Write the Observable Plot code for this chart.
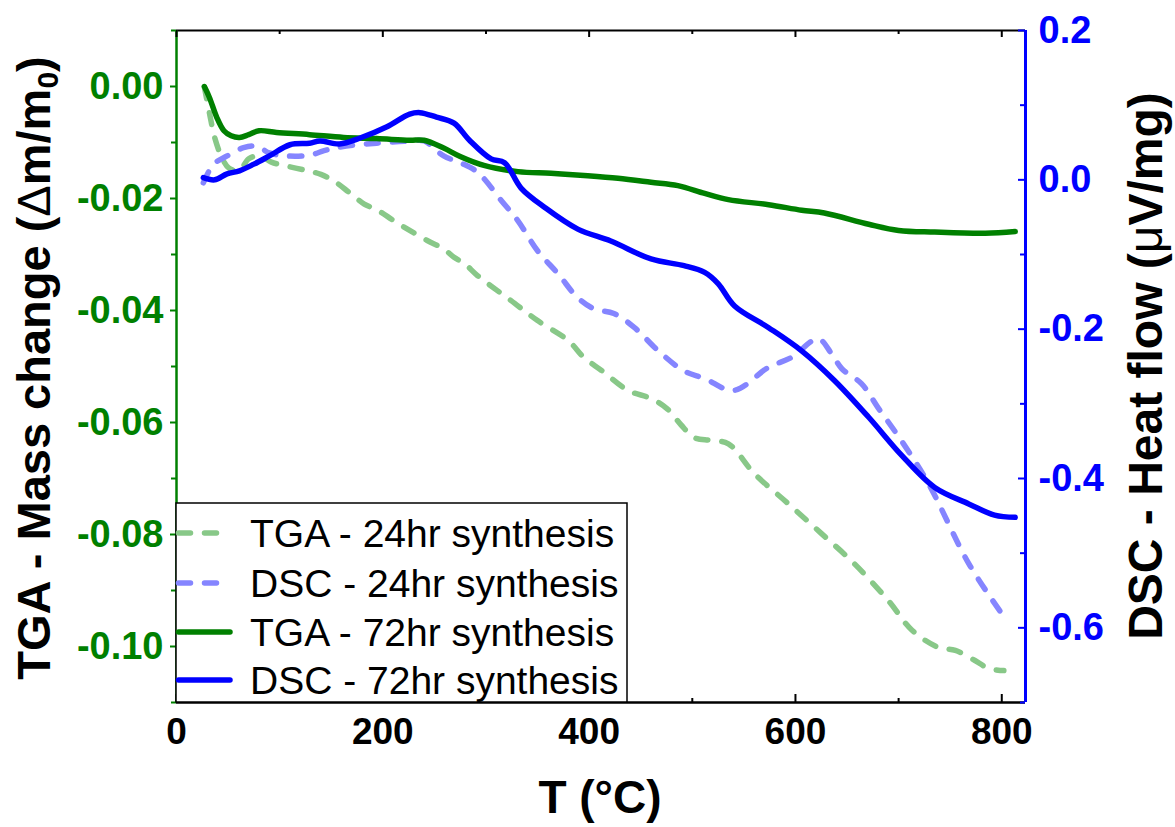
<!DOCTYPE html>
<html><head><meta charset="utf-8">
<script src="https://cdn.jsdelivr.net/npm/d3@7"></script>
<script src="https://cdn.jsdelivr.net/npm/@observablehq/plot@0.6"></script>
<style>
body{margin:0;background:#fff;}
#wrap{position:relative;width:1175px;height:827px;}
</style>
</head><body><div id="wrap"></div>
<script>
// ---- data (T in °C) ----
const tga24T = [27,32,37,44,51,61,70,81,92,104,126,140,152,168,182,194,211,226,243,259,269,279,292,324,350,380,395,412,438,460,476,489,502,518,535,560,593,625,657,690,713,739,755,774,787,802];
const tga24V = [-0.0001,-0.0048,-0.0091,-0.0127,-0.0146,-0.0150,-0.0129,-0.0124,-0.0135,-0.0141,-0.0150,-0.0157,-0.0168,-0.0190,-0.0210,-0.0220,-0.0240,-0.0257,-0.0275,-0.0290,-0.0305,-0.0316,-0.0338,-0.0382,-0.0418,-0.0454,-0.0484,-0.0507,-0.0543,-0.0557,-0.0576,-0.0604,-0.0627,-0.0632,-0.0638,-0.0691,-0.0745,-0.0798,-0.0852,-0.0918,-0.0971,-0.1002,-0.1007,-0.1025,-0.1039,-0.1043];

const dsc24T = [26,36,49,65,78,90,107,129,143,155,175,194,226,240,259,275,292,315,331,350,370,389,405,424,444,467,492,512,540,574,596,622,635,645,664,680,703,729,768,800];
const dsc24V = [-0.004,0.021,0.032,0.043,0.045,0.036,0.032,0.033,0.039,0.043,0.047,0.049,0.052,0.052,0.032,0.023,0.010,-0.028,-0.055,-0.095,-0.126,-0.158,-0.173,-0.179,-0.198,-0.229,-0.256,-0.266,-0.282,-0.251,-0.238,-0.213,-0.233,-0.253,-0.273,-0.305,-0.350,-0.407,-0.514,-0.581];

const tga72T = [27,32,39,46,53,61,70,80,97,129,162,194,226,240,259,275,298,331,363,395,428,460,486,512,535,574,606,628,671,700,735,784,813];
const tga72V = [0.000,-0.002,-0.0055,-0.0079,-0.0088,-0.0091,-0.0086,-0.0079,-0.0082,-0.0086,-0.0091,-0.0093,-0.0096,-0.0096,-0.0110,-0.0125,-0.0141,-0.0152,-0.0155,-0.0159,-0.0164,-0.0171,-0.0177,-0.0191,-0.0202,-0.0211,-0.0221,-0.0226,-0.0246,-0.0257,-0.0260,-0.0262,-0.0259];

const dsc72T = [26,37,49,61,75,90,110,129,139,158,178,204,226,236,252,269,284,305,318,334,357,389,421,460,492,512,525,541,574,606,638,671,703,735,768,793,813];
const dsc72V = [0.003,0.000,0.008,0.012,0.021,0.032,0.047,0.049,0.052,0.048,0.056,0.071,0.088,0.090,0.084,0.076,0.053,0.028,0.023,-0.011,-0.037,-0.066,-0.082,-0.106,-0.115,-0.124,-0.139,-0.169,-0.198,-0.229,-0.269,-0.318,-0.369,-0.412,-0.434,-0.449,-0.452];

const xMajor = [0,200,400,600,800];
const xMinor = [100,300,500,700];
const tgaMajor = [-0.10,-0.08,-0.06,-0.04,-0.02,0.00];
const tgaMinor = [-0.11,-0.09,-0.07,-0.05,-0.03,-0.01,0.01];
const dscMajor = [-0.6,-0.4,-0.2,0.0,0.2];
const dscMinor = [-0.7,-0.5,-0.3,-0.1,0.1];

const seriesNames = ["TGA - 24hr synthesis","DSC - 24hr synthesis","TGA - 72hr synthesis","DSC - 72hr synthesis"];
const seriesColors = ["#88c888","#8585ff","#008000","#0000ff"];
const seriesDashed = [true,true,false,false];

// ---- layout ----
const W = 1175, H = 827, mL = 176, mR = 150, mT = 30, mB = 125;
const frameW = W - mL - mR, frameH = H - mT - mB;
const tgaDomain = [-0.11, 0.01], dscDomain = [-0.7, 0.2];
const k = (tgaDomain[1]-tgaDomain[0])/(dscDomain[1]-dscDomain[0]);
const toLeft = v => tgaDomain[0] + (v - dscDomain[0]) * k;
const fromLeft = d => dscDomain[0] + (d - tgaDomain[0]) / k;
const rows = (T, V, map) => T.map((t, i) => ({T: t, y: map ? toLeft(V[i]) : V[i]}));

const green = "#008000", blue = "#0000ff";
const font = "'Liberation Sans', Arial, Helvetica, sans-serif";
const lineOpts = (i) => ({x: "T", y: "y", stroke: seriesColors[i], strokeWidth: 5.5, curve: "catmull-rom",
  strokeLinecap: "round", strokeLinejoin: "round", strokeDasharray: seriesDashed[i] ? "12,14" : null});

const chart = Plot.plot({
  width: W, height: H, marginLeft: mL, marginRight: mR, marginTop: mT, marginBottom: mB,
  style: {fontFamily: font, background: "white", overflow: "visible"},
  x: {domain: [0, 823]},
  y: {domain: tgaDomain},
  marks: [
    Plot.line(rows(tga24T, tga24V, false), lineOpts(0)),
    Plot.line(rows(dsc24T, dsc24V, true), lineOpts(1)),
    Plot.line(rows(tga72T, tga72V, false), lineOpts(2)),
    Plot.line(rows(dsc72T, dsc72V, true), lineOpts(3)),
    // frame
    Plot.ruleY([tgaDomain[1]], {stroke: "black", strokeWidth: 2}),
    Plot.ruleY([tgaDomain[0]], {stroke: "black", strokeWidth: 2.5}),
    Plot.ruleX([0], {stroke: green, strokeWidth: 2.5}),
    Plot.ruleX([823], {stroke: blue, strokeWidth: 3}),
    // x ticks (inward, bottom and top)
    Plot.tickX(xMajor, {x: d => d, insetTop: frameH - 8, stroke: "black", strokeWidth: 2}),
    Plot.tickX(xMinor, {x: d => d, insetTop: frameH - 4, stroke: "black", strokeWidth: 2}),
    Plot.tickX(xMajor, {x: d => d, insetBottom: frameH - 7, stroke: "black", strokeWidth: 2}),
    Plot.tickX(xMinor, {x: d => d, insetBottom: frameH - 4, stroke: "black", strokeWidth: 2}),
    // left ticks (outward)
    Plot.tickY(tgaMajor, {y: d => d, insetRight: frameW - 6, dx: -6, stroke: green, strokeWidth: 2}),
    Plot.tickY(tgaMinor, {y: d => d, insetRight: frameW - 5, dx: -5, stroke: green, strokeWidth: 2}),
    // right ticks (inward)
    Plot.tickY(dscMajor.map(toLeft), {y: d => d, insetLeft: frameW - 7, stroke: blue, strokeWidth: 2}),
    Plot.tickY(dscMinor.map(toLeft), {y: d => d, insetLeft: frameW - 5, stroke: blue, strokeWidth: 2}),
    // tick labels
    Plot.axisX({ticks: xMajor, tickSize: 0, tickPadding: 15, tickFormat: d => String(d), label: null,
      fontSize: 37, fontWeight: "bold", color: "black"}),
    Plot.axisY({anchor: "left", ticks: tgaMajor, tickSize: 0, tickPadding: 13, label: null,
      tickFormat: d => (Math.abs(d) < 1e-9 ? 0 : d).toFixed(2), fontSize: 38, fontWeight: "bold", color: green}),
    Plot.axisY({anchor: "right", ticks: dscMajor.map(toLeft), tickSize: 0, tickPadding: 13, label: null,
      tickFormat: d => { const v = Math.round(fromLeft(d) * 10) / 10; return (Math.abs(v) < 1e-9 ? 0 : v).toFixed(1); },
      fontSize: 38, fontWeight: "bold", color: blue})
  ]
});

document.getElementById("wrap").appendChild(chart);
const svg = d3.select(chart);

// axis titles
const lt = svg.append("text").attr("transform", "translate(50,368) rotate(-90)")
  .attr("text-anchor", "middle").attr("font-family", font).attr("font-size", 47).attr("font-weight", "bold").attr("fill", "black");
lt.append("tspan").text("TGA - Mass change (");
lt.append("tspan").attr("font-weight", "normal").text("Δ");
lt.append("tspan").text("m/m");
lt.append("tspan").attr("font-size", 30).attr("dy", 8).text("0");
lt.append("tspan").attr("dy", -8).text(")");

const rt = svg.append("text").attr("transform", "translate(1162,366) rotate(-90)")
  .attr("text-anchor", "middle").attr("font-family", font).attr("font-size", 48).attr("font-weight", "bold").attr("fill", "black");
rt.append("tspan").text("DSC - Heat flow (");
rt.append("tspan").attr("font-weight", "normal").text("μ");
rt.append("tspan").text("V/mg)");

svg.append("text").attr("x", 600).attr("y", 813).attr("text-anchor", "middle")
  .attr("font-family", font).attr("font-size", 46).attr("font-weight", "bold").attr("fill", "black").text("T (°C)");

// legend
const lg = svg.append("g").attr("transform", "translate(176,503)");
lg.append("rect").attr("x", 0).attr("y", 0).attr("width", 451).attr("height", 199)
  .attr("fill", "white").attr("stroke", "black").attr("stroke-width", 1.5);
const rowY = [30, 80, 129, 177];
seriesNames.forEach((name, i) => {
  lg.append("line").attr("x1", 2.5).attr("x2", 54).attr("y1", rowY[i]).attr("y2", rowY[i])
    .attr("stroke", seriesColors[i]).attr("stroke-width", 5.5).attr("stroke-linecap", "round")
    .attr("stroke-dasharray", seriesDashed[i] ? "12,14" : null);
  lg.append("text").attr("x", 74).attr("y", rowY[i] + 14).attr("text-anchor", "start")
    .attr("font-family", font).attr("font-size", 39).attr("fill", "black").text(name);
});
</script>
</body></html>
